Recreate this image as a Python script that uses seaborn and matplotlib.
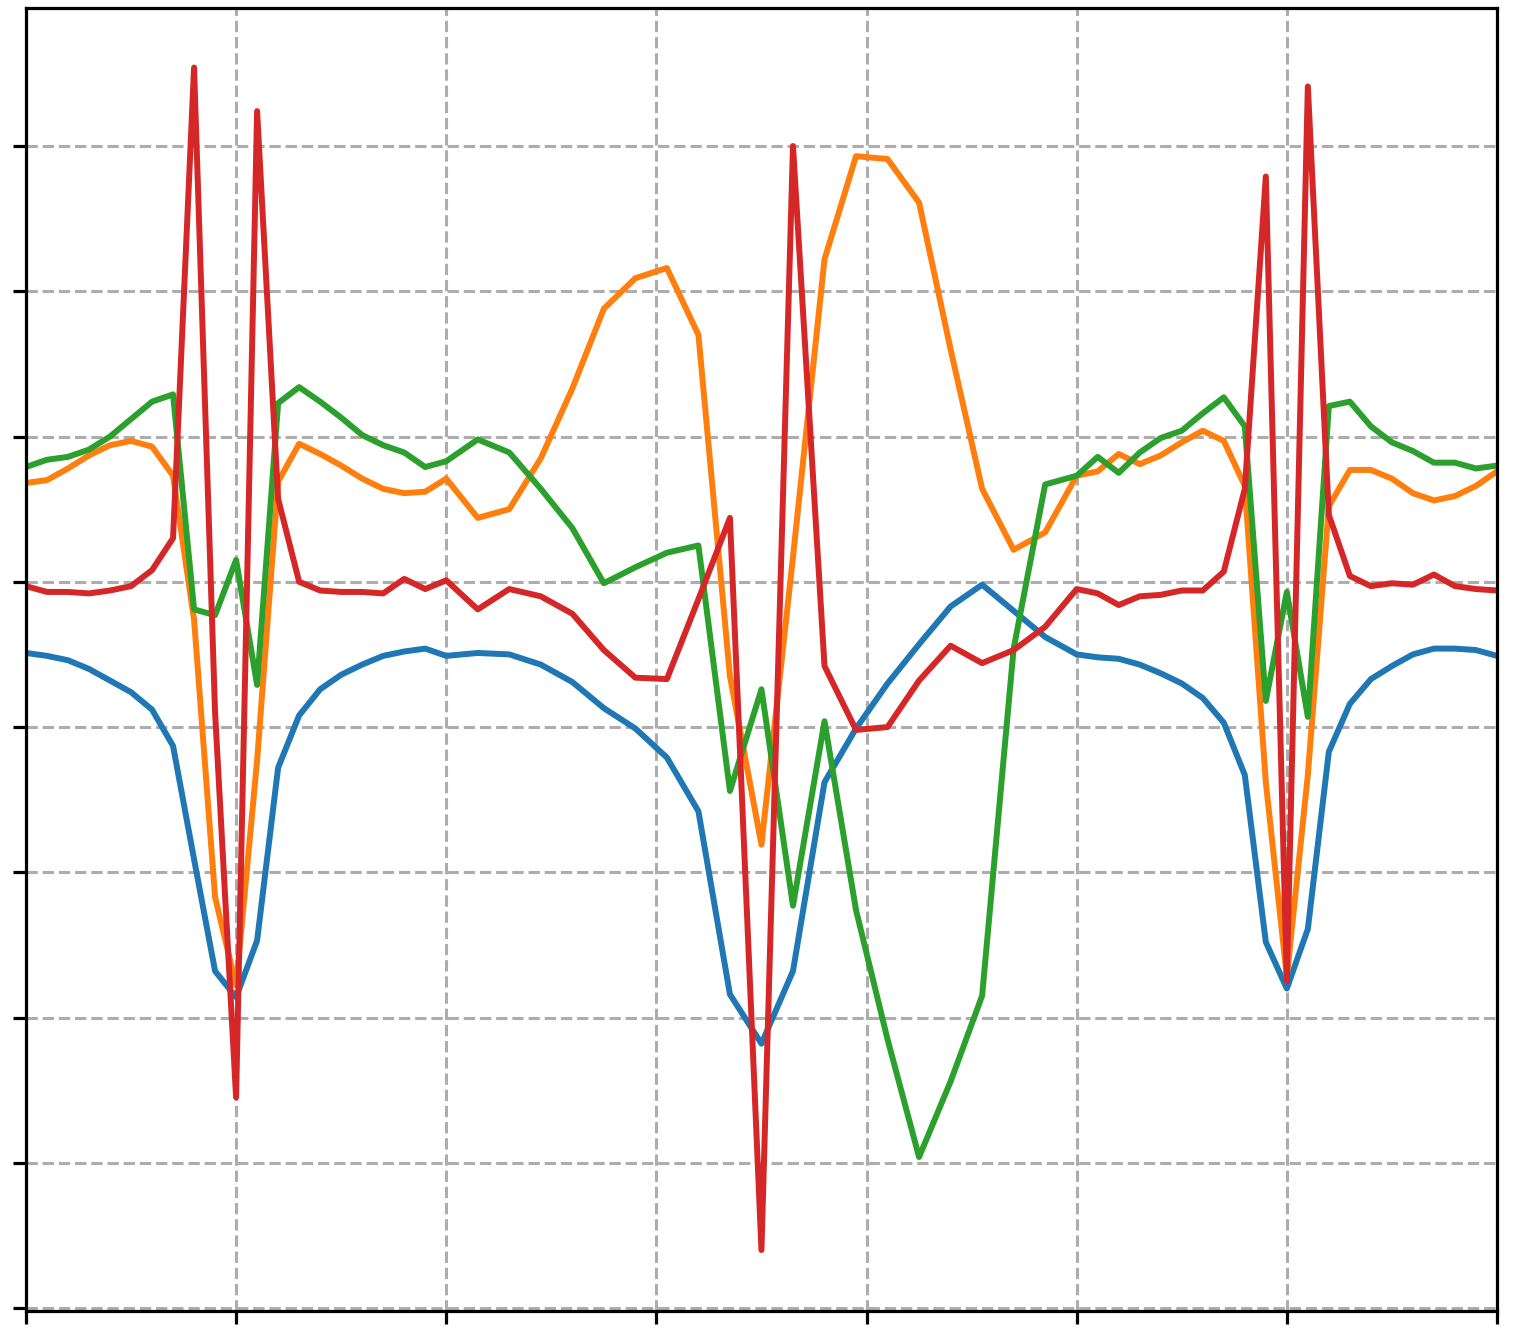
import pandas as pd
import matplotlib
matplotlib.use("Agg")
import matplotlib.pyplot as plt
import seaborn as sns

# sample positions: fine step at both ends, coarser step in the middle
x = [0.0, 0.1, 0.2, 0.3, 0.4, 0.5, 0.6, 0.7, 0.8, 0.9, 1.0,
     1.1, 1.2, 1.3, 1.4, 1.5, 1.6, 1.7, 1.8, 1.9, 2.0,
     2.15, 2.3, 2.45, 2.6, 2.75, 2.9, 3.05, 3.2, 3.35, 3.5,
     3.65, 3.8, 3.95, 4.1, 4.25, 4.4, 4.55, 4.7, 4.85, 5.0,
     5.1, 5.2, 5.3, 5.4, 5.5, 5.6, 5.7, 5.8, 5.9, 6.0,
     6.1, 6.2, 6.3, 6.4, 6.5, 6.6, 6.7, 6.8, 6.9, 7.0]

blue = [4.51, 4.49, 4.46, 4.40, 4.32, 4.24, 4.12, 3.87, 3.09, 2.32, 2.14,
        2.53, 3.72, 4.08, 4.26, 4.36, 4.43, 4.49, 4.52, 4.54, 4.49,
        4.51, 4.50, 4.43, 4.31, 4.13, 3.99, 3.79, 3.42, 2.16, 1.82,
        2.32, 3.62, 3.99, 4.30, 4.57, 4.83, 4.98, 4.80, 4.62, 4.50,
        4.48, 4.47, 4.43, 4.37, 4.30, 4.20, 4.03, 3.67, 2.52, 2.20,
        2.61, 3.83, 4.16, 4.33, 4.42, 4.50, 4.54, 4.54, 4.53, 4.49]

orange = [5.68, 5.70, 5.78, 5.87, 5.94, 5.97, 5.93, 5.73, 4.74, 2.83, 2.22,
          3.77, 5.69, 5.95, 5.88, 5.80, 5.71, 5.64, 5.61, 5.62, 5.71,
          5.44, 5.50, 5.85, 6.33, 6.88, 7.09, 7.16, 6.70, 4.35, 3.19,
          5.17, 7.22, 7.93, 7.91, 7.61, 6.60, 5.64, 5.22, 5.34, 5.73,
          5.76, 5.88, 5.81, 5.87, 5.96, 6.04, 5.97, 5.66, 3.62, 2.28,
          3.67, 5.52, 5.77, 5.77, 5.71, 5.61, 5.56, 5.59, 5.66, 5.76]

green = [5.79, 5.84, 5.86, 5.91, 6.00, 6.12, 6.24, 6.29, 4.81, 4.77, 5.15,
         4.29, 6.23, 6.34, 6.24, 6.13, 6.01, 5.94, 5.89, 5.79, 5.83,
         5.98, 5.89, 5.64, 5.37, 4.99, 5.10, 5.20, 5.25, 3.56, 4.26,
         2.77, 4.04, 2.74, 1.85, 1.04, 1.56, 2.15, 4.54, 5.67, 5.73,
         5.86, 5.75, 5.89, 5.99, 6.04, 6.16, 6.27, 6.07, 4.18, 4.93,
         4.07, 6.21, 6.24, 6.07, 5.96, 5.90, 5.82, 5.82, 5.78, 5.80]

red = [4.97, 4.93, 4.93, 4.92, 4.94, 4.97, 5.08, 5.30, 8.54, 4.10, 1.45,
       8.24, 5.57, 5.00, 4.94, 4.93, 4.93, 4.92, 5.02, 4.95, 5.01,
       4.81, 4.95, 4.90, 4.78, 4.53, 4.34, 4.33, 4.88, 5.44, 0.40,
       8.00, 4.42, 3.98, 4.00, 4.32, 4.56, 4.44, 4.53, 4.69, 4.95,
       4.92, 4.84, 4.90, 4.91, 4.94, 4.94, 5.07, 5.64, 7.79, 2.25,
       8.41, 5.46, 5.04, 4.97, 4.99, 4.98, 5.05, 4.97, 4.95, 4.94]

names = ['blue', 'orange', 'green', 'red']
colors = ['#1f77b4', '#ff7f0e', '#2ca02c', '#d62728']

frames = []
for name, vals in zip(names, [blue, orange, green, red]):
    frames.append(pd.DataFrame({'x': x, 'y': vals, 'series': name}))
data = pd.concat(frames, ignore_index=True)

sns.set_style('ticks')
fig = plt.figure(figsize=(15.17, 13.33), dpi=100)
ax = fig.add_axes([0.0171, 0.0165, 0.9697, 0.9775])

sns.lineplot(data=data, x='x', y='y', hue='series', palette=colors,
             linewidth=4.3, legend=False, ax=ax)

ax.set_xlim(0, 7)
ax.set_ylim(-0.02, 8.95)
ax.set_xticks(range(8))
ax.set_yticks(range(9))
ax.set_xticklabels([])
ax.set_yticklabels([])
ax.set_xlabel('')
ax.set_ylabel('')

ax.grid(True, color='#adadad', linestyle='--', linewidth=2.2)
ax.set_axisbelow(True)
for sp in ax.spines.values():
    sp.set_visible(True)
    sp.set_color('black')
    sp.set_linewidth(2.3)
ax.tick_params(length=9.4, width=2.3, direction='out', color='black')

fig.savefig('out.png', dpi=100)
